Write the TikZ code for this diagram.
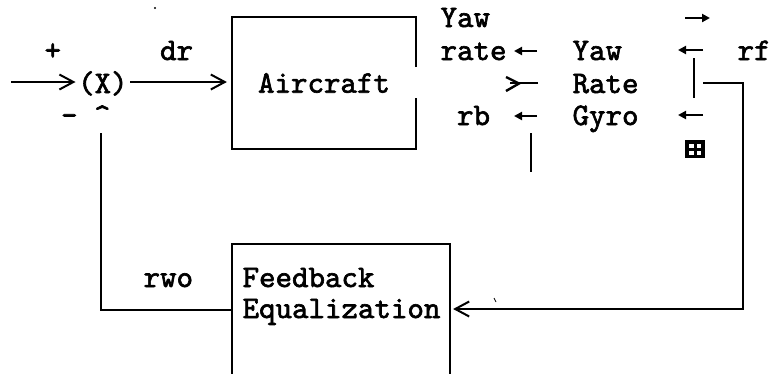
\documentclass[tikz,border=0pt]{standalone}
\usepackage{fontspec}
\newfontfamily\tfam{lmmono10-regular.otf}[FakeBold=2]
\usetikzlibrary{arrows.meta}
\begin{document}
\begin{tikzpicture}[x=1pt,y=-1pt,
  line width=2.2pt,
  tf/.style={font=\fontsize{31.4}{33}\selectfont\tfam},
  txt/.style={tf,anchor=base west,inner sep=0pt},
  chev/.style={-{Straight Barb[length=14pt,width=15pt,line width=2pt]}},
  sarrow/.style={line width=2.4pt,-{Triangle[length=8pt,width=8pt]}},
  box/.style={draw=none,inner sep=0pt}]
\clip (0,0) rectangle (770,373);
\useasboundingbox (0,0) rectangle (770,373);
% nodes
\node[txt] (plus) at (43.5,60) {+};
\node[txt] (dr) at (159,60) {dr};
\node[txt] (minus) at (60,125) {-\ \textasciicircum};
\node[txt,inner sep=1.5pt] (sum) at (75.5,93) {(X)};
\node[box,tf,minimum width=182pt,minimum height=130pt] (ac) at (324,83) {Aircraft};
\node[box,minimum width=216pt,minimum height=180pt] (fb) at (341,335) {};
\node[txt] (fbt1) at (241.5,287) {Feedback};
\node[txt] (fbt2) at (241.5,318) {Equalization};
\node[txt] (rwo) at (142.5,287) {rwo};
\node[txt] (yaw1) at (439.5,27) {Yaw};
\node[txt] (rate1) at (439.5,60) {rate};
\node[txt] (rb) at (456,125) {rb};
\node[txt] (yaw2) at (571.5,60) {Yaw};
\node[txt] (rate2) at (571.5,93) {Rate};
\node[txt] (gyro) at (571.5,125) {Gyro};
\node[txt] (rf) at (736.5,60) {rf};
% coordinates
\coordinate (in) at (11,82);
\coordinate (fbup) at (101,133);
\coordinate (tapR) at (703,83);
\coordinate (corner) at (743,83);
% aircraft box with gap on the right
\draw (ac.east |- 0,67) -- (ac.north east) -- (ac.north west) -- (ac.south west) -- (ac.south east) -- (ac.east |- 0,98);
% feedback box (open at bottom)
\draw (fb.south west) -- (fb.north west) -- (fb.north east) -- (fb.south east);
% forward path
\draw[chev] (in) -- (sum.west |- in);
\draw[chev,shorten >=5pt] (sum.east |- in) -- (ac.west |- in);
% feedback path
\draw (fb.west |- 0,310) -| (fbup);
\draw[chev,shorten >=3pt] (tapR) -- (corner) |- (fb.east |- 0,309);
% gyro marks
\draw (694,58) -- (694,98);
\draw (531,133) -- (531,172);
\draw[sarrow] (537,51) -- (514,51);
\draw[sarrow] (537,116) -- (514,116);
\draw[line width=2.4pt] (538,83) -- (510,83);
\draw[line width=2.4pt] (506,77) -- (519,83.5) -- (506,91);
\draw[sarrow] (685,18) -- (710,18);
\draw[sarrow] (703,50) -- (678,50);
\draw[sarrow] (703,115) -- (678,115);
% boxed symbol
\fill (685,140) rectangle (705,158);
\fill[white] (689,144) rectangle (693.5,148);
\fill[white] (696.5,144) rectangle (701,148);
\fill[white] (689,150.5) rectangle (693.5,154.5);
\fill[white] (696.5,150.5) rectangle (701,154.5);
% specks
\fill (155,8) circle (1.2pt);
\draw[line width=0.8pt] (494,298) -- (496,302);
\end{tikzpicture}
\end{document}
